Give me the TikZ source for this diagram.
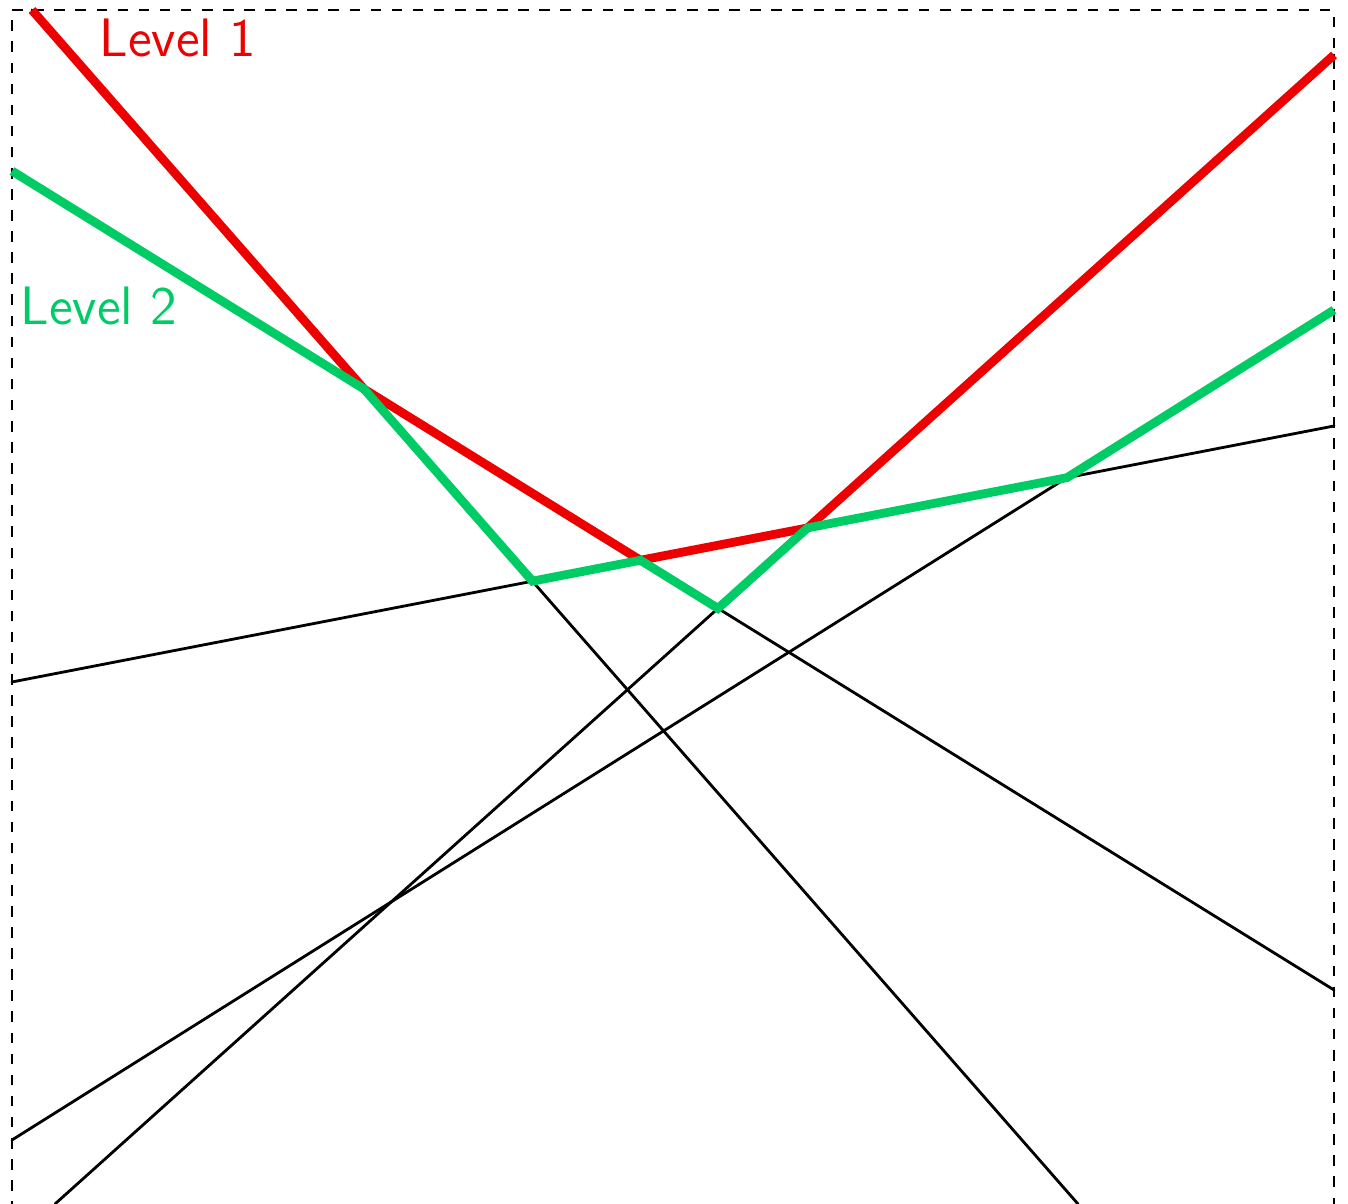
\documentclass[tikz,border=0pt]{standalone}
\usepackage{amsfonts,amsmath,amssymb}
\usepackage{xcolor}
\usetikzlibrary{arrows.meta}
\definecolor{levelred}{RGB}{236,0,0}
\definecolor{levelgreen}{RGB}{0,204,102}
\tikzset{
  every picture/.style={line join=round, line cap=round, >=Stealth},
  arrline/.style={line width=0.8pt},
  levelpath/.style={line width=2.5pt, line cap=butt, line join=miter},
  levellabel/.style={font=\sffamily\fontsize{15.4}{18}\selectfont, inner sep=0pt, anchor=base west},
}

\begin{document}
\begin{tikzpicture}
\clip (0,0) rectangle (13.48,12.04);
\draw[dashed, line cap=butt] (0.12,-0.5) rectangle (13.34,11.94);
% the five lines, ends on the box
\coordinate (a1) at (0.12,5.22);  \coordinate (a2) at (13.34,7.78);
\coordinate (b1) at (0.32,11.94); \coordinate (b2) at (10.78,0);
\coordinate (c1) at (0.12,10.33); \coordinate (c2) at (13.34,2.14);
\coordinate (d1) at (0.55,0);     \coordinate (d2) at (13.34,11.49);
\coordinate (e1) at (0.12,0.64);  \coordinate (e2) at (13.34,8.94);
\foreach \l in {a,b,c,d,e}
  \draw[arrline] (\l1) -- (\l2);
% vertices of the levels
\coordinate (bc) at (intersection of b1--b2 and c1--c2);
\coordinate (ab) at (intersection of a1--a2 and b1--b2);
\coordinate (ac) at (intersection of a1--a2 and c1--c2);
\coordinate (cd) at (intersection of c1--c2 and d1--d2);
\coordinate (ad) at (intersection of a1--a2 and d1--d2);
\coordinate (ae) at (intersection of a1--a2 and e1--e2);
\draw[levelpath, levelred] (b1) -- (bc) -- (ac) -- (ad) -- (d2);
\draw[levelpath, levelgreen] (c1) -- (bc) -- (ab) -- (ac) -- (cd) -- (ad) -- (ae) -- (e2);
\node[levellabel, levelred] (lev1) at (0.99,11.47) {Level 1};
\node[levellabel, levelgreen] (lev2) at (0.20,8.79) {Level 2};
\end{tikzpicture}
\end{document}
